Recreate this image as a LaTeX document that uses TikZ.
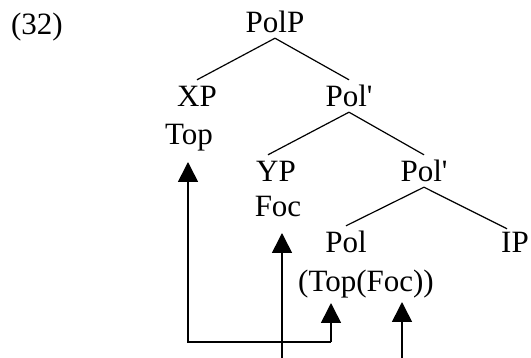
\documentclass[tikz,border=0pt]{standalone}
\usepackage{fontspec}
\setmainfont{Liberation Serif}
\usetikzlibrary{arrows.meta,calc}

\tikzset{
  lbl/.style={anchor=base, inner xsep=0pt, inner ysep=5pt, text height=22pt, text depth=0pt},
  branch/.style={line width=1.2pt},
  mv/.style={line width=1.6pt, -{Triangle[width=20pt,length=20pt]}}
}

\begin{document}
\begin{tikzpicture}[x=1pt, y=-1pt, font=\fontsize{31}{36}\selectfont]
\useasboundingbox (0,0) rectangle (531,358);
% Labels
    \node[lbl] (ex) at (37,35) {(32)};
    \node[lbl] (polp) at (275,33) {PolP};
    \node[lbl] (xp) at (197,107) {XP};
    \node[lbl] (top) at (189,145) {Top};
    \node[lbl] (polbar) at (349,107) {Pol\textquotesingle};
    \node[lbl] (yp) at (276,182) {YP};
    \node[lbl] (foc) at (278,217) {Foc};
    \node[lbl] (polbarb) at (424,182) {Pol\textquotesingle};
    \node[lbl] (pol) at (346,253) {Pol};
    \node[lbl] (ip) at (515,253) {IP};
    \node[lbl] (topfoc) at (366,292) {(Top(Foc))};
% Branches
    \draw[branch] (polp.south) -- (xp.north);
    \draw[branch] (polp.south) -- (polbar.north);
    \draw[branch] (polbar.south) -- ($(yp.north)+(-8,0)$);
    \draw[branch] (polbar.south) -- (polbarb.north);
    \draw[branch] (polbarb.south) -- (pol.north);
    \draw[branch] (polbarb.south) -- ($(ip.north)+(-8,3)$);
% Movement arrows
    \coordinate (tiptop) at (188,162);
    \coordinate (tipfoc) at (282,233);
    \coordinate (tippol) at (331,303);
    \coordinate (tipip) at (402,302);
    \coordinate (corner) at (188,342);
    \draw[mv] (tippol |- corner) -- (corner) -- (tiptop);
    \draw[mv] (tipfoc |- 0,358) -- (tipfoc);
    \draw[mv] (tippol |- corner) -- (tippol);
    \draw[mv] (tipip |- 0,358) -- (tipip);
\end{tikzpicture}
\end{document}
